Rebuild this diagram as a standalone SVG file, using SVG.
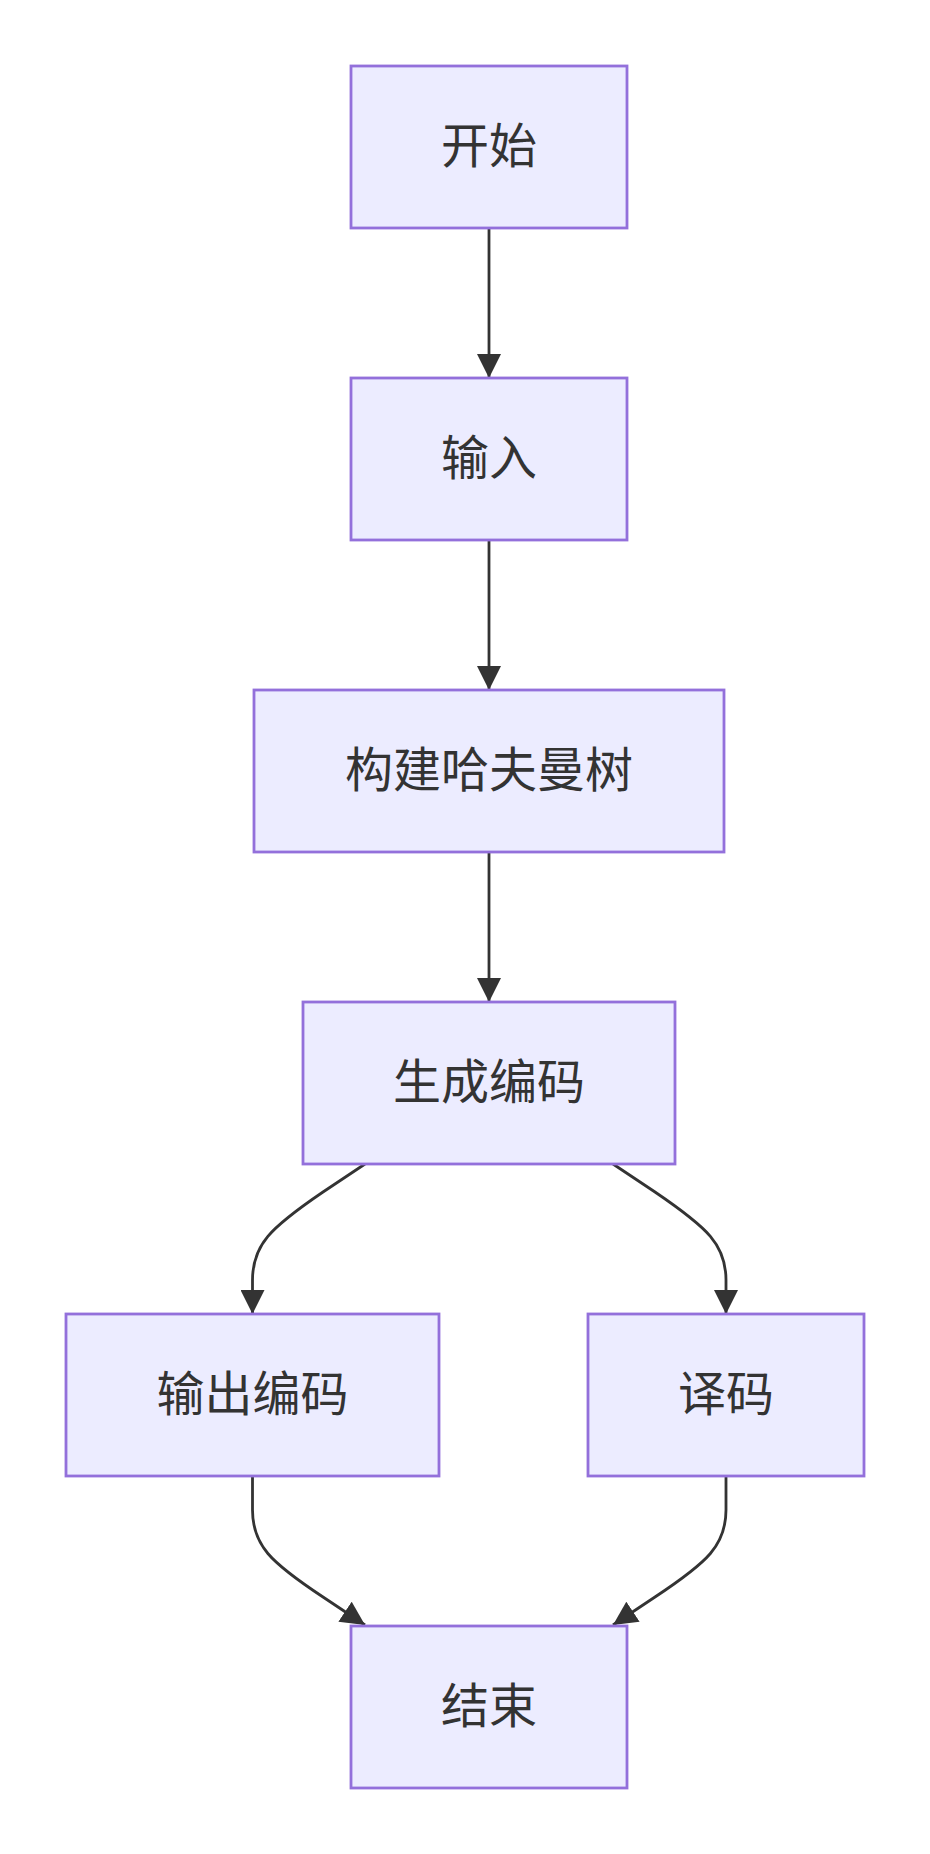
<svg xmlns="http://www.w3.org/2000/svg" width="930" height="1854" viewBox="0 0 930 1854">
<style>
.node rect{fill:#ECECFF;stroke:#9370DB;stroke-width:2.8}
.node text{font-family:"Noto Sans CJK SC","Noto Sans",sans-serif;font-size:48px;fill:#333333;text-anchor:middle;dominant-baseline:central}
.edges path{fill:none;stroke:#333333;stroke-width:2.8}
</style>
<defs>
<marker id="arrow" markerUnits="userSpaceOnUse" markerWidth="24" markerHeight="24" viewBox="0 0 24 24" refX="24" refY="12" orient="auto">
<path d="M0,0 L24,12 L0,24 z" fill="#333333"/>
</marker>
</defs>
<rect width="930" height="1854" fill="#ffffff"/>
<g class="edges">
<path d="M489,228 L489,378" marker-end="url(#arrow)"/>
<path d="M489,540 L489,690" marker-end="url(#arrow)"/>
<path d="M489,852 L489,1002" marker-end="url(#arrow)"/>
<path d="M365,1164 L323,1192 C270,1228 252.5,1245 252.5,1280 L252.5,1314" marker-end="url(#arrow)"/>
<path d="M613,1164 L655,1192 C708,1228 726,1245 726,1280 L726,1314" marker-end="url(#arrow)"/>
<path d="M252.5,1476 L252.5,1510 C252.5,1545 270,1562 323,1597 L365,1625" marker-end="url(#arrow)"/>
<path d="M726,1476 L726,1510 C726,1545 708,1562 655,1597 L613,1625" marker-end="url(#arrow)"/>
</g>
<g id="start" class="node"><rect x="351" y="66" width="276" height="162"/><text x="489" y="142">开始</text></g>
<g id="input" class="node"><rect x="351" y="378" width="276" height="162"/><text x="489" y="454">输入</text></g>
<g id="build" class="node"><rect x="254" y="690" width="470" height="162"/><text x="489" y="766">构建哈夫曼树</text></g>
<g id="gen" class="node"><rect x="303" y="1002" width="372" height="162"/><text x="489" y="1078">生成编码</text></g>
<g id="output" class="node"><rect x="66" y="1314" width="373" height="162"/><text x="252.5" y="1390">输出编码</text></g>
<g id="decode" class="node"><rect x="588" y="1314" width="276" height="162"/><text x="726" y="1390">译码</text></g>
<g id="end" class="node"><rect x="351" y="1626" width="276" height="162"/><text x="489" y="1702">结束</text></g>
</svg>
